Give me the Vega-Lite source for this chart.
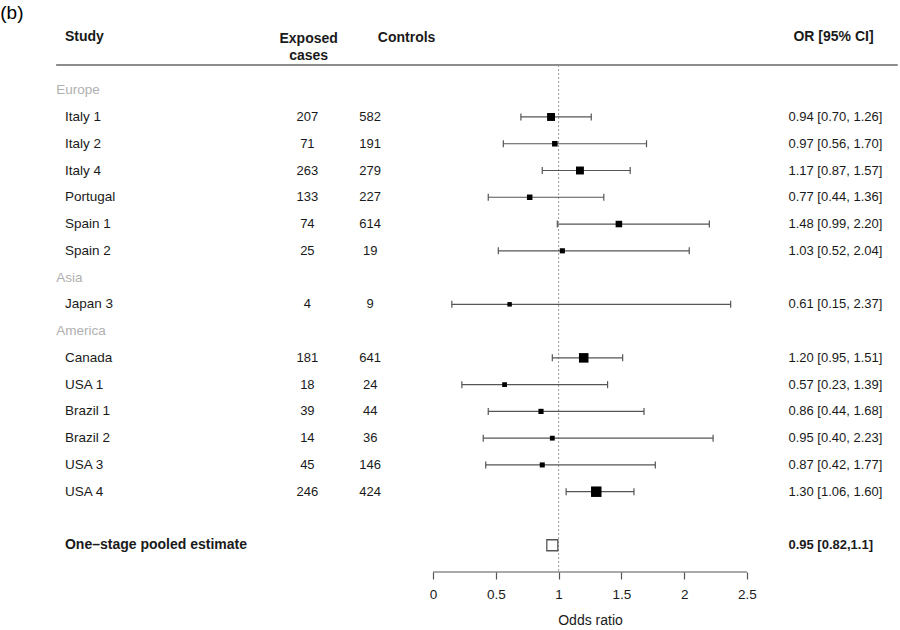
{
  "$schema": "https://vega.github.io/schema/vega-lite/v6.json",
  "width": 900,
  "height": 572,
  "padding": 0,
  "background": "white",
  "config": {
    "view": {"stroke": null},
    "font": "Liberation Sans",
    "text": {"font": "Liberation Sans", "baseline": "middle", "color": "#1a1a1a"}
  },
  "datasets": {
    "studies": [
      {"study": "Italy 1", "region": "Europe", "cases": 207, "controls": 582, "or": 0.94, "lb": 0.70, "ub": 1.26, "ci": "0.94 [0.70, 1.26]", "weight": 44.4, "row": 1},
      {"study": "Italy 2", "region": "Europe", "cases": 71, "controls": 191, "or": 0.97, "lb": 0.56, "ub": 1.70, "ci": "0.97 [0.56, 1.70]", "weight": 12.5, "row": 2},
      {"study": "Italy 4", "region": "Europe", "cases": 263, "controls": 279, "or": 1.17, "lb": 0.87, "ub": 1.57, "ci": "1.17 [0.87, 1.57]", "weight": 44.1, "row": 3},
      {"study": "Portugal", "region": "Europe", "cases": 133, "controls": 227, "or": 0.77, "lb": 0.44, "ub": 1.36, "ci": "0.77 [0.44, 1.36]", "weight": 12.1, "row": 4},
      {"study": "Spain 1", "region": "Europe", "cases": 74, "controls": 614, "or": 1.48, "lb": 0.99, "ub": 2.20, "ci": "1.48 [0.99, 2.20]", "weight": 24.1, "row": 5},
      {"study": "Spain 2", "region": "Europe", "cases": 25, "controls": 19, "or": 1.03, "lb": 0.52, "ub": 2.04, "ci": "1.03 [0.52, 2.04]", "weight": 8.2, "row": 6},
      {"study": "Japan 3", "region": "Asia", "cases": 4, "controls": 9, "or": 0.61, "lb": 0.15, "ub": 2.37, "ci": "0.61 [0.15, 2.37]", "weight": 2.0, "row": 8},
      {"study": "Canada", "region": "America", "cases": 181, "controls": 641, "or": 1.20, "lb": 0.95, "ub": 1.51, "ci": "1.20 [0.95, 1.51]", "weight": 71.7, "row": 10},
      {"study": "USA 1", "region": "America", "cases": 18, "controls": 24, "or": 0.57, "lb": 0.23, "ub": 1.39, "ci": "0.57 [0.23, 1.39]", "weight": 4.75, "row": 11},
      {"study": "Brazil 1", "region": "America", "cases": 39, "controls": 44, "or": 0.86, "lb": 0.44, "ub": 1.68, "ci": "0.86 [0.44, 1.68]", "weight": 8.55, "row": 12},
      {"study": "Brazil 2", "region": "America", "cases": 14, "controls": 36, "or": 0.95, "lb": 0.40, "ub": 2.23, "ci": "0.95 [0.40, 2.23]", "weight": 5.2, "row": 13},
      {"study": "USA 3", "region": "America", "cases": 45, "controls": 146, "or": 0.87, "lb": 0.42, "ub": 1.77, "ci": "0.87 [0.42, 1.77]", "weight": 7.4, "row": 14},
      {"study": "USA 4", "region": "America", "cases": 246, "controls": 424, "or": 1.30, "lb": 1.06, "ub": 1.60, "ci": "1.30 [1.06, 1.60]", "weight": 90.5, "row": 15}
    ],
    "groups": [
      {"region": "Europe", "row": 0},
      {"region": "Asia", "row": 7},
      {"region": "America", "row": 9}
    ],
    "pooled": [
      {"label": "One\u2013stage pooled estimate", "or": 0.95, "lb": 0.82, "ub": 1.1, "ci": "0.95 [0.82,1.1]", "row": 17}
    ],
    "one": [{}]
  },
  "layer": [
    {
      "data": {"name": "one"},
      "mark": {"type": "rule", "color": "#666666", "strokeWidth": 1.5},
      "encoding": {
        "x": {
          "datum": -3, "type": "quantitative",
          "scale": {"domain": [-3.447, 3.718], "nice": false, "zero": false},
          "axis": {
            "title": "Odds ratio",
            "values": [0, 0.5, 1, 1.5, 2, 2.5],
            "format": "~g",
            "domain": false,
            "grid": false,
            "tickSize": 7,
            "tickColor": "#555555",
            "tickWidth": 1.2,
            "labelFont": "Liberation Sans",
            "labelFontSize": 13.5,
            "labelColor": "#1a1a1a",
            "labelPadding": 8,
            "labelFlush": false,
            "titleFont": "Liberation Sans",
            "titleFontSize": 14,
            "titleFontWeight": "normal",
            "titleColor": "#1a1a1a",
            "titlePadding": 13,
            "titleX": 590,
            "titleAlign": "center"
          }
        },
        "x2": {"datum": 3.7},
        "y": {"datum": -0.94, "type": "quantitative", "scale": {"domain": [-3.37, 18], "nice": false, "zero": false, "reverse": true}, "axis": null}
      }
    },
    {
      "data": {"name": "one"},
      "mark": {"type": "rule", "color": "#9a9a9a", "strokeWidth": 1, "strokeDash": [2, 2]},
      "encoding": {
        "x": {"datum": 1, "type": "quantitative"},
        "y": {"datum": -0.94, "type": "quantitative", "axis": null},
        "y2": {"datum": 18}
      }
    },
    {
      "data": {"name": "one"},
      "mark": {"type": "rule", "color": "#555555", "strokeWidth": 1.2},
      "encoding": {
        "x": {"datum": 0, "type": "quantitative"},
        "x2": {"datum": 2.5},
        "y": {"datum": 18, "type": "quantitative", "axis": null}
      }
    },
    {
      "data": {"name": "studies"},
      "mark": {"type": "rule", "color": "#555555", "strokeWidth": 1.2},
      "encoding": {
        "x": {"field": "lb", "type": "quantitative"},
        "x2": {"field": "ub"},
        "y": {"field": "row", "type": "quantitative", "axis": null}
      }
    },
    {
      "data": {"name": "studies"},
      "mark": {"type": "tick", "orient": "vertical", "color": "#555555", "thickness": 1.2, "size": 7, "opacity": 1},
      "encoding": {
        "x": {"field": "lb", "type": "quantitative"},
        "y": {"field": "row", "type": "quantitative", "axis": null}
      }
    },
    {
      "data": {"name": "studies"},
      "mark": {"type": "tick", "orient": "vertical", "color": "#555555", "thickness": 1.2, "size": 7, "opacity": 1},
      "encoding": {
        "x": {"field": "ub", "type": "quantitative"},
        "y": {"field": "row", "type": "quantitative", "axis": null}
      }
    },
    {
      "data": {"name": "studies"},
      "mark": {"type": "point", "shape": "square", "filled": true, "color": "#000000", "opacity": 1},
      "encoding": {
        "x": {"field": "or", "type": "quantitative"},
        "y": {"field": "row", "type": "quantitative", "axis": null},
        "size": {"field": "weight", "type": "quantitative", "scale": {"type": "linear", "domain": [2, 90.5], "range": [20, 110], "zero": false}, "legend": null}
      }
    },
    {
      "data": {"name": "pooled"},
      "mark": {"type": "point", "shape": "square", "filled": false, "fill": "white", "fillOpacity": 1, "stroke": "#555555", "strokeWidth": 1.3, "size": 121, "opacity": 1},
      "encoding": {
        "x": {"field": "or", "type": "quantitative"},
        "y": {"field": "row", "type": "quantitative", "axis": null}
      }
    },
    {
      "data": {"name": "groups"},
      "mark": {"type": "text", "align": "left", "fontSize": 13.5, "color": "#b0b0b0"},
      "encoding": {
        "x": {"datum": -3, "type": "quantitative"},
        "y": {"field": "row", "type": "quantitative", "axis": null},
        "text": {"field": "region"}
      }
    },
    {
      "data": {"name": "studies"},
      "mark": {"type": "text", "align": "left", "fontSize": 13.5},
      "encoding": {
        "x": {"datum": -2.93, "type": "quantitative"},
        "y": {"field": "row", "type": "quantitative", "axis": null},
        "text": {"field": "study"}
      }
    },
    {
      "data": {"name": "studies"},
      "mark": {"type": "text", "align": "center", "fontSize": 13},
      "encoding": {
        "x": {"datum": -1.0, "type": "quantitative"},
        "y": {"field": "row", "type": "quantitative", "axis": null},
        "text": {"field": "cases"}
      }
    },
    {
      "data": {"name": "studies"},
      "mark": {"type": "text", "align": "center", "fontSize": 13},
      "encoding": {
        "x": {"datum": -0.5, "type": "quantitative"},
        "y": {"field": "row", "type": "quantitative", "axis": null},
        "text": {"field": "controls"}
      }
    },
    {
      "data": {"name": "studies"},
      "mark": {"type": "text", "align": "left", "fontSize": 13},
      "encoding": {
        "x": {"datum": 2.83, "type": "quantitative"},
        "y": {"field": "row", "type": "quantitative", "axis": null},
        "text": {"field": "ci"}
      }
    },
    {
      "data": {"name": "pooled"},
      "mark": {"type": "text", "align": "left", "fontSize": 14, "fontWeight": "bold"},
      "encoding": {
        "x": {"datum": -2.93, "type": "quantitative"},
        "y": {"field": "row", "type": "quantitative", "axis": null},
        "text": {"field": "label"}
      }
    },
    {
      "data": {"name": "pooled"},
      "mark": {"type": "text", "align": "left", "fontSize": 13, "fontWeight": "bold"},
      "encoding": {
        "x": {"datum": 2.83, "type": "quantitative"},
        "y": {"field": "row", "type": "quantitative", "axis": null},
        "text": {"field": "ci"}
      }
    },
    {
      "data": {"name": "one"},
      "mark": {"type": "text", "align": "left", "fontSize": 14, "fontWeight": "bold"},
      "encoding": {
        "x": {"datum": -2.93, "type": "quantitative"},
        "y": {"datum": -2, "type": "quantitative", "axis": null},
        "text": {"value": "Study"}
      }
    },
    {
      "data": {"name": "one"},
      "mark": {"type": "text", "align": "center", "fontSize": 14, "fontWeight": "bold", "lineHeight": 17},
      "encoding": {
        "x": {"datum": -0.99, "type": "quantitative"},
        "y": {"datum": -1.93, "type": "quantitative", "axis": null},
        "text": {"value": ["Exposed", "cases"]}
      }
    },
    {
      "data": {"name": "one"},
      "mark": {"type": "text", "align": "center", "fontSize": 14, "fontWeight": "bold"},
      "encoding": {
        "x": {"datum": -0.21, "type": "quantitative"},
        "y": {"datum": -1.95, "type": "quantitative", "axis": null},
        "text": {"value": "Controls"}
      }
    },
    {
      "data": {"name": "one"},
      "mark": {"type": "text", "align": "left", "fontSize": 14, "fontWeight": "bold"},
      "encoding": {
        "x": {"datum": 2.87, "type": "quantitative"},
        "y": {"datum": -1.97, "type": "quantitative", "axis": null},
        "text": {"value": "OR [95% CI]"}
      }
    },
    {
      "data": {"name": "one"},
      "mark": {"type": "text", "align": "left", "fontSize": 19, "color": "#000000"},
      "encoding": {
        "x": {"datum": -3.445, "type": "quantitative"},
        "y": {"datum": -2.87, "type": "quantitative", "axis": null},
        "text": {"value": "(b)"}
      }
    }
  ]
}
